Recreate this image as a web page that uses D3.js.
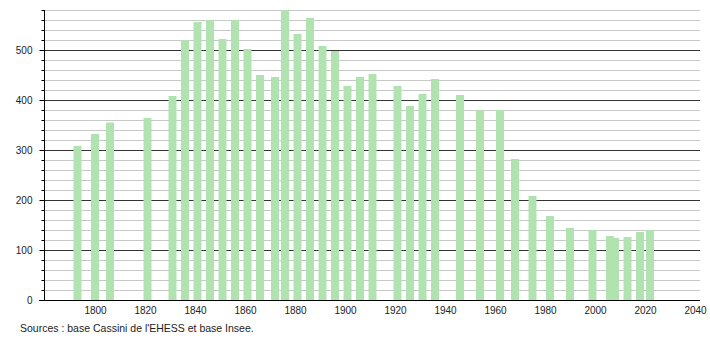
<!DOCTYPE html>
<html>
<head>
<meta charset="utf-8">
<script src="https://cdn.jsdelivr.net/npm/d3@7"></script>
<style>
  body { margin: 0; background: #fff; }
  svg { display: block; font-family: "Liberation Sans", Arial, sans-serif; }
</style>
</head>
<body>
<div id="chart"></div>
<script>
// census years and population
var years = [1793, 1800, 1806, 1821, 1831, 1836, 1841, 1846, 1851, 1856, 1861, 1866,
             1872, 1876, 1881, 1886, 1891, 1896, 1901, 1906, 1911, 1921, 1926, 1931,
             1936, 1946, 1954, 1962, 1968, 1975, 1982, 1990, 1999, 2006, 2008, 2013,
             2018, 2022];
var population = [308, 332, 355, 364, 408, 520, 556, 560, 522, 560, 502, 450,
                  446, 580, 532, 564, 508, 498, 428, 446, 452, 428, 388, 412,
                  442, 410, 380, 380, 282, 208, 168, 144, 140, 128, 124, 126,
                  136, 140];
var xTicks = [1800, 1820, 1840, 1860, 1880, 1900, 1920, 1940, 1960, 1980, 2000, 2020, 2040];
var yTicks = [0, 100, 200, 300, 400, 500];
var source = "Sources : base Cassini de l'EHESS et base Insee.";

var W = 710, H = 340;
var svg = d3.select('#chart').append('svg')
  .attr('width', W).attr('height', H);

var x = d3.scaleLinear().domain([1780, 2042]).range([45, 700]);
var y = d3.scaleLinear().domain([0, 580]).range([300, 10]);
var barW = 8;

// grid, minor every 20, major every 100
var minor = d3.range(20, 581, 20).filter(function(v) { return v % 100 !== 0; });
svg.append('g').selectAll('line')
  .data(minor).enter().append('line')
    .attr('x1', 44).attr('x2', 700)
    .attr('y1', function(d) { return Math.round(y(d)) + 0.5; })
    .attr('y2', function(d) { return Math.round(y(d)) + 0.5; })
    .attr('stroke', '#c8c8c8').attr('stroke-width', 1);
svg.append('g').selectAll('line')
  .data(yTicks.slice(1)).enter().append('line')
    .attr('x1', 44).attr('x2', 700)
    .attr('y1', function(d) { return Math.round(y(d)) + 0.5; })
    .attr('y2', function(d) { return Math.round(y(d)) + 0.5; })
    .attr('stroke', '#333').attr('stroke-width', 1);

// bars
svg.append('g').selectAll('rect')
  .data(years).enter().append('rect')
    .attr('x', function(d) { return x(d) - barW / 2; })
    .attr('y', function(d, i) { return y(population[i]); })
    .attr('width', barW)
    .attr('height', function(d, i) { return y(0) - y(population[i]); })
    .attr('fill', '#b1e3b1');

// y axis with minor ticks
var yMinor = d3.axisLeft(y).tickValues(minor).tickSize(3).tickFormat('');
svg.append('g').attr('transform', 'translate(44.5,0)').call(yMinor)
  .call(function(g) { g.select('.domain').remove(); });
var yAxis = d3.axisLeft(y).tickValues(yTicks).tickSize(5).tickPadding(7);
svg.append('g').attr('transform', 'translate(44.5,0)').call(yAxis)
  .call(function(g) {
    g.select('.domain').attr('d', 'M0,10V300');
    g.selectAll('text').attr('font-size', 10).attr('font-family', null).attr('fill', '#222');
  });

// x axis
var xAxis = d3.axisBottom(x).tickValues(xTicks).tickSize(0).tickPadding(6).tickFormat(d3.format('d'));
svg.append('g').attr('transform', 'translate(0,300.5)').call(xAxis)
  .call(function(g) {
    g.select('.domain').attr('d', 'M39,0H700');
    g.selectAll('text').attr('font-size', 10).attr('font-family', null).attr('fill', '#222');
  });

svg.append('text')
  .attr('x', 20).attr('y', 332)
  .attr('font-size', 10.5).attr('fill', '#222')
  .text(source);
</script>
</body>
</html>
